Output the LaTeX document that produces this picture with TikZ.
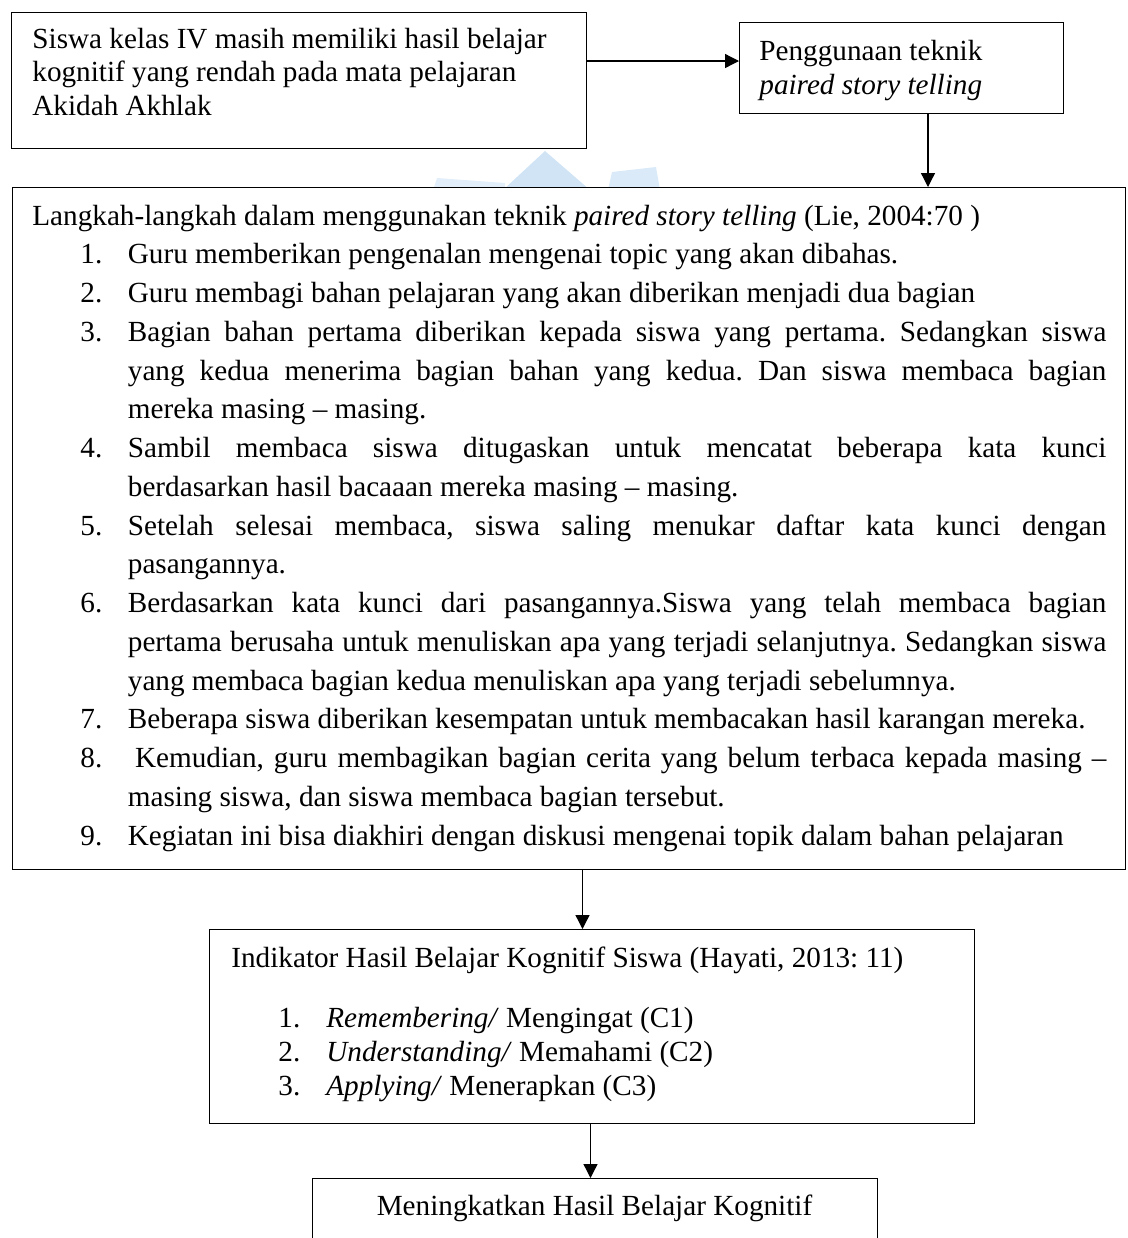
\documentclass[tikz,border=0pt]{standalone}
\usepackage{fontspec}
\setmainfont{Liberation Serif}
\usetikzlibrary{arrows.meta}
\frenchspacing
\newcommand\jline[2]{\hbox to 537pt{\makebox[47.75pt][l]{\hspace*{24pt}#1}\makebox[489.25pt][s]{#2}}}
\newcommand\lline[2]{\hbox to 537pt{\makebox[47.75pt][l]{\hspace*{24pt}#1}#2\hfil}}
\begin{document}
\begin{tikzpicture}[x=0.5pt,y=-0.5pt,
  box/.style={draw=black,line width=0.7pt,fill=white,rectangle,anchor=north west,inner sep=0pt},
  txt/.style={anchor=base west,inner sep=0pt,align=flush left,font=\fontsize{14.6}{17}\selectfont\frenchspacing},
  arr/.style={line width=0.65pt,-{Triangle[length=7pt,width=7pt]}}]
\useasboundingbox (0,0) rectangle (1128,1238);
\clip (0,0) rectangle (1128,1238);
% faint watermark
\fill[fill={rgb,255:red,226;green,238;blue,249}] (433,190) -- (437,178) -- (505,183) -- (505,190) -- cycle;
\fill[fill={rgb,255:red,208;green,228;blue,246}] (503,190) -- (545,151) -- (590,190) -- cycle;
\fill[fill={rgb,255:red,218;green,234;blue,248}] (608,190) -- (612,172) -- (656,167) -- (660,190) -- cycle;
% boxes
\node[box,minimum width=287.5pt,minimum height=68pt] (b1) at (11,12) {};
\node[box,minimum width=162pt,minimum height=45.5pt] (b2) at (739,22) {};
\node[box,minimum width=556.5pt,minimum height=341pt] (b3) at (12,187) {};
\node[box,minimum width=382.5pt,minimum height=97pt] (b4) at (209,929) {};
\node[box,minimum width=282.5pt,minimum height=70pt] (b5) at (312,1178) {};
% texts
\node[txt,text width=280pt,font=\fontsize{14.6}{16.8}\selectfont] (t1) at (32,48) {Siswa kelas IV masih memiliki hasil belajar\\kognitif yang rendah pada mata pelajaran\\Akidah Akhlak};
\node[txt,text width=150pt] (t2) at (759,60) {Penggunaan teknik\\\textit{paired story telling}};
\node[txt,text width=537pt,font=\fontsize{14.6}{19.375}\selectfont\frenchspacing] (t3) at (32,225) {%
\hbox to 537pt{Langkah-langkah dalam menggunakan teknik \textit{paired story telling} (Lie, 2004:70 )\hfil}
\lline{1.}{Guru memberikan pengenalan mengenai topic yang akan dibahas.}
\lline{2.}{Guru membagi bahan pelajaran yang akan diberikan menjadi dua bagian}
\jline{3.}{Bagian bahan pertama diberikan kepada siswa yang pertama. Sedangkan siswa}
\jline{}{yang kedua menerima bagian bahan yang kedua. Dan siswa membaca bagian}
\lline{}{mereka masing – masing.}
\jline{4.}{Sambil membaca siswa ditugaskan untuk mencatat beberapa kata kunci}
\lline{}{berdasarkan hasil bacaaan mereka masing – masing.}
\jline{5.}{Setelah selesai membaca, siswa saling menukar daftar kata kunci dengan}
\lline{}{pasangannya.}
\jline{6.}{Berdasarkan kata kunci dari pasangannya.Siswa yang telah membaca bagian}
\jline{}{pertama berusaha untuk menuliskan apa yang terjadi selanjutnya. Sedangkan siswa}
\lline{}{yang membaca bagian kedua menuliskan apa yang terjadi sebelumnya.}
\lline{7.}{Beberapa siswa diberikan kesempatan untuk membacakan hasil karangan mereka.}
\jline{8.}{\hspace*{3.6pt}Kemudian, guru membagikan bagian cerita yang belum terbaca kepada masing –}
\lline{}{masing siswa, dan siswa membaca bagian tersebut.}
\lline{9.}{Kegiatan ini bisa diakhiri dengan diskusi mengenai topik dalam bahan pelajaran}};
\node[txt] (t4) at (231,967) {Indikator Hasil Belajar Kognitif Siswa (Hayati, 2013: 11)};
\node[txt,text width=300pt] (t5) at (278,1027) {\makebox[24pt][l]{1.}\textit{Remembering/} Mengingat (C1)\\
\makebox[24pt][l]{2.}\textit{Understanding/} Memahami (C2)\\
\makebox[24pt][l]{3.}\textit{Applying/} Menerapkan (C3)};
\node[txt,anchor=base] (t6) at (594.5,1215) {Meningkatkan Hasil Belajar Kognitif};
% connectors
\coordinate (c12) at (0,61);
\coordinate (c23) at (928,0);
\coordinate (c34) at (582.5,0);
\coordinate (c45) at (590.5,0);
\draw[arr] (b1.east |- c12) -- (b2.west |- c12);
\draw[arr] (b2.south -| c23) -- (b3.north -| c23);
\draw[arr] (b3.south -| c34) -- (b4.north -| c34);
\draw[arr] (b4.south -| c45) -- (b5.north -| c45);
\end{tikzpicture}
\end{document}
